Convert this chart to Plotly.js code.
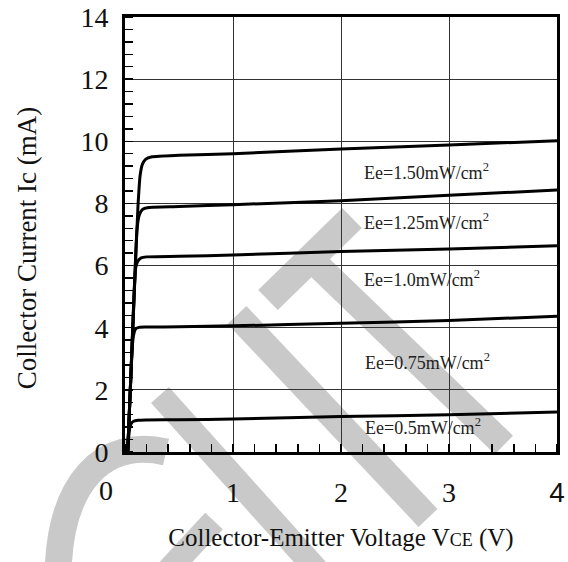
<!DOCTYPE html>
<html>
<head>
<meta charset="utf-8">
<script src="https://cdn.plot.ly/plotly-3.0.1.min.js"></script>
<style>html,body{margin:0;padding:0;background:#fff;}</style>
</head>
<body>
<div id="chart" style="width:568px;height:562px;"></div>
<script>
// ---- data ----
const seriesNames = ["Ee=1.50mW/cm<sup>2</sup>", "Ee=1.25mW/cm<sup>2</sup>", "Ee=1.0mW/cm<sup>2</sup>", "Ee=0.75mW/cm<sup>2</sup>", "Ee=0.5mW/cm<sup>2</sup>"];

const vce_150 = [0.025, 0.055, 0.09, 0.12, 0.14, 0.16, 0.19, 0.25, 0.5, 1, 2, 3, 4];
const ic_150  = [0, 2.5, 5.5, 7.9, 8.9, 9.25, 9.42, 9.5, 9.55, 9.6, 9.75, 9.88, 10.02];

const vce_125 = [0.025, 0.055, 0.09, 0.11, 0.13, 0.16, 0.22, 0.5, 1, 2, 3, 4];
const ic_125  = [0, 2.5, 5.5, 7.1, 7.6, 7.8, 7.87, 7.9, 7.96, 8.09, 8.26, 8.43];

const vce_100 = [0.025, 0.055, 0.085, 0.1, 0.12, 0.15, 0.2, 0.5, 1, 2, 3, 4];
const ic_100  = [0, 2.5, 5.2, 5.95, 6.15, 6.25, 6.28, 6.3, 6.34, 6.45, 6.53, 6.64];

const vce_075 = [0.025, 0.055, 0.07, 0.085, 0.1, 0.13, 0.2, 0.5, 1, 2, 3, 4];
const ic_075  = [0, 2.5, 3.5, 3.85, 3.97, 4.01, 4.02, 4.03, 4.06, 4.14, 4.23, 4.37];

const vce_050 = [0.025, 0.035, 0.045, 0.06, 0.08, 0.12, 0.2, 0.5, 1, 2, 3, 4];
const ic_050  = [0, 0.5, 0.8, 0.93, 0.99, 1.02, 1.03, 1.04, 1.06, 1.14, 1.2, 1.29];

// label anchor positions (data units): [Vce, Ic]
const labelVce = [2.19, 2.19, 2.19, 2.2, 2.2];
const labelIc  = [9.02, 7.42, 5.57, 2.92, 0.82];

const xTickVals = [0, 1, 2, 3, 4];
const xTickText = ["", "1", "2", "3", "<span style='font-family:Liberation Sans, Arial, sans-serif'>4</span>"];
const yTickVals = [0, 2, 4, 6, 8, 10, 12, 14];
const yTickText = ["0", "2", "4", "6", "8", "10", "12", "14"];

const xTitle = "Collector-Emitter Voltage V<span style='font-size:18px'>CE</span> (V)";
const yTitle = "Collector Current Ic (mA)&nbsp;&nbsp;&nbsp;&nbsp;";

// ---- chart ----
const serif = "Liberation Serif, Times New Roman, serif";
const xs = [vce_150, vce_125, vce_100, vce_075, vce_050];
const ys = [ic_150, ic_125, ic_100, ic_075, ic_050];

const traces = xs.map((x, i) => ({
  type: "scatter", mode: "lines", x: x, y: ys[i], name: seriesNames[i],
  line: {color: "#000", width: 3, shape: "spline", smoothing: 0.6},
  showlegend: false, hoverinfo: "skip"
}));

const annotations = seriesNames.map((t, i) => ({
  x: labelVce[i], y: labelIc[i], xref: "x", yref: "y",
  text: t, showarrow: false, xanchor: "left", yanchor: "middle",
  font: {family: serif, size: 18, color: "#222"}
}));
annotations.push({
  x: -0.045, y: -0.0874, xref: "paper", yref: "paper", text: "0",
  showarrow: false, xanchor: "center", yanchor: "middle",
  font: {family: serif, size: 28, color: "#111"}
});

// ---- background watermark (decoration, in page pixels -> paper) ----
const PL = 125, PW = 432, PB = 452, PH = 435;
const px = x => (x - PL) / PW;
const py = y => (PB - y) / PH;
const wm = "#c9c9c9";
const band = (x0, y0, x1, y1, w) => ({
  type: "line", xref: "paper", yref: "paper", layer: "below",
  x0: px(x0), y0: py(y0), x1: px(x1), y1: py(y1),
  line: {color: wm, width: w}
});
const shapes = [
  {type: "path", xref: "paper", yref: "paper", layer: "below",
   path: "M " + px(58) + "," + py(580) + " C " + px(58) + "," + py(480) + " " + px(105) + "," + py(438) + " " + px(166) + "," + py(452),
   line: {color: wm, width: 27}},
  band(160, 395, 326, 580, 24),
  band(150, 590, 214, 521, 24),
  band(237, 315, 428, 518, 26),
  band(268, 300, 352, 218, 28),
  band(310, 258, 504, 445, 26)
];

const layout = {
  width: 568, height: 562,
  margin: {l: 125, r: 11, t: 17, b: 110, pad: 0},
  paper_bgcolor: "#fff", plot_bgcolor: "rgba(0,0,0,0)",
  font: {family: serif, color: "#111"},
  xaxis: {
    range: [0, 4], tickmode: "array", tickvals: xTickVals, ticktext: xTickText,
    ticks: "", showgrid: true, gridcolor: "#333", gridwidth: 1,
    zeroline: false, showline: true, linecolor: "#000", linewidth: 3, mirror: true,
    tickfont: {family: serif, size: 28, color: "#111"}, ticklabelstandoff: 13,
    minor: {dtick: 0.2, ticks: "inside", ticklen: 8, tickwidth: 1.5, tickcolor: "#000", showgrid: false},
    title: {text: xTitle, font: {family: serif, size: 25, color: "#111"}, standoff: 22},
    fixedrange: true
  },
  yaxis: {
    range: [0, 14], tickmode: "array", tickvals: yTickVals, ticktext: yTickText,
    ticks: "", showgrid: true, gridcolor: "#333", gridwidth: 1,
    zeroline: false, showline: true, linecolor: "#000", linewidth: 3, mirror: true,
    tickfont: {family: serif, size: 28, color: "#111"}, ticklabelstandoff: 8,
    minor: {dtick: 0.4, ticks: "inside", ticklen: 8, tickwidth: 1.5, tickcolor: "#000", showgrid: false},
    title: {text: yTitle, font: {family: serif, size: 27, color: "#111"}, standoff: 36},
    fixedrange: true
  },
  annotations: annotations,
  shapes: shapes,
  showlegend: false
};

Plotly.newPlot("chart", traces, layout, {displayModeBar: false, staticPlot: true});
</script>
</body>
</html>
